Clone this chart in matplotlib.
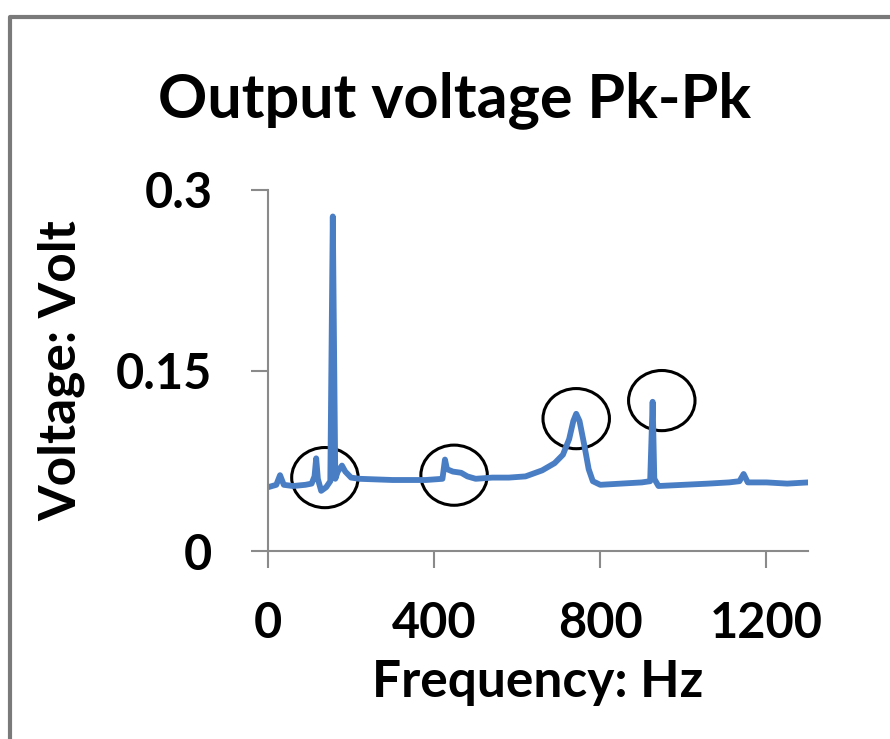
"""Output voltage Pk-Pk vs frequency, with the resonance peaks circled."""
import matplotlib
matplotlib.use("Agg")
import matplotlib.pyplot as plt
from matplotlib.lines import Line2D
from matplotlib.patches import Ellipse

freq_hz = [0, 20, 29, 38, 60, 90, 105, 112, 116, 120, 128, 140, 150, 156, 162,
           168, 178, 186, 200, 220, 300, 380, 420, 426, 431, 445, 465, 480, 500,
           540, 580, 620, 660, 690, 710, 725, 735, 742, 750, 762, 772, 782, 800,
           850, 900, 920, 926, 930, 940, 1000, 1060, 1110, 1135, 1145, 1155,
           1200, 1250, 1300]
volt = [0.053, 0.055, 0.063, 0.055, 0.054, 0.055, 0.056, 0.062, 0.077, 0.060,
        0.050, 0.053, 0.058, 0.278, 0.060, 0.066, 0.071, 0.066, 0.061, 0.060,
        0.059, 0.059, 0.060, 0.076, 0.068, 0.066, 0.065, 0.062, 0.060, 0.061,
        0.061, 0.062, 0.067, 0.073, 0.080, 0.093, 0.108, 0.114, 0.108, 0.087,
        0.068, 0.058, 0.055, 0.056, 0.057, 0.058, 0.124, 0.060, 0.054, 0.055,
        0.056, 0.057, 0.058, 0.064, 0.057, 0.057, 0.056, 0.057]

# circled regions (centre freq, centre voltage)
circle_hz = [137, 448, 742, 948]
circle_v = [0.061, 0.063, 0.110, 0.125]

x_ticks = [0, 400, 800, 1200]
y_ticks = [0, 0.15, 0.3]
y_tick_labels = ["0", "0.15", "0.3"]

FONT = "Lato"
GRAY = "#8a8a8a"

fig = plt.figure(figsize=(8.9, 7.39), dpi=100)
ax = fig.add_axes([268 / 890, 1 - 551 / 739, 540 / 890, 361 / 739])

ax.plot(freq_hz, volt, color="#4a7ec4", lw=4.2, solid_joinstyle="round",
        solid_capstyle="round")

for cx, cy in zip(circle_hz, circle_v):
    ax.add_patch(Ellipse((cx, cy), 160, 0.050, fill=False, ec="black", lw=2.2))

ax.set_xlim(0, 1300)
ax.set_ylim(0, 0.3)
ax.set_xticks(x_ticks)
ax.set_yticks(y_ticks)
ax.set_yticklabels(y_tick_labels)

for side in ("top", "right"):
    ax.spines[side].set_visible(False)
for side in ("left", "bottom"):
    ax.spines[side].set_color(GRAY)
    ax.spines[side].set_linewidth(1.5)

ax.tick_params(direction="out", length=12, width=1.5, color=GRAY, labelsize=35)
ax.tick_params(axis="x", pad=24)
ax.tick_params(axis="y", pad=28)
for lbl in ax.get_xticklabels() + ax.get_yticklabels():
    lbl.set_fontfamily(FONT)
    lbl.set_fontweight("bold")

ax.set_xlabel("Frequency: Hz", fontsize=37, fontfamily=FONT, fontweight="bold",
              va="center")
ax.set_ylabel("Voltage: Volt", fontsize=37, fontfamily=FONT, fontweight="bold",
              va="center")
ax.xaxis.set_label_coords(0.5, (551 - 682) / 361)
ax.yaxis.set_label_coords((62 - 268) / 540, 0.5)

fig.text(455 / 890, 1 - 100 / 739, "Output voltage Pk-Pk", fontsize=44,
         fontfamily=FONT, fontweight="bold", ha="center", va="center")

# chart frame (runs off the right and bottom edges)
fig.add_artist(Line2D([10 / 890, 10 / 890, 1.05], [-0.05, 1 - 17 / 739, 1 - 17 / 739],
                      transform=fig.transFigure, color="#7a7a7a", lw=3))

fig.savefig("out.png", dpi=100)
